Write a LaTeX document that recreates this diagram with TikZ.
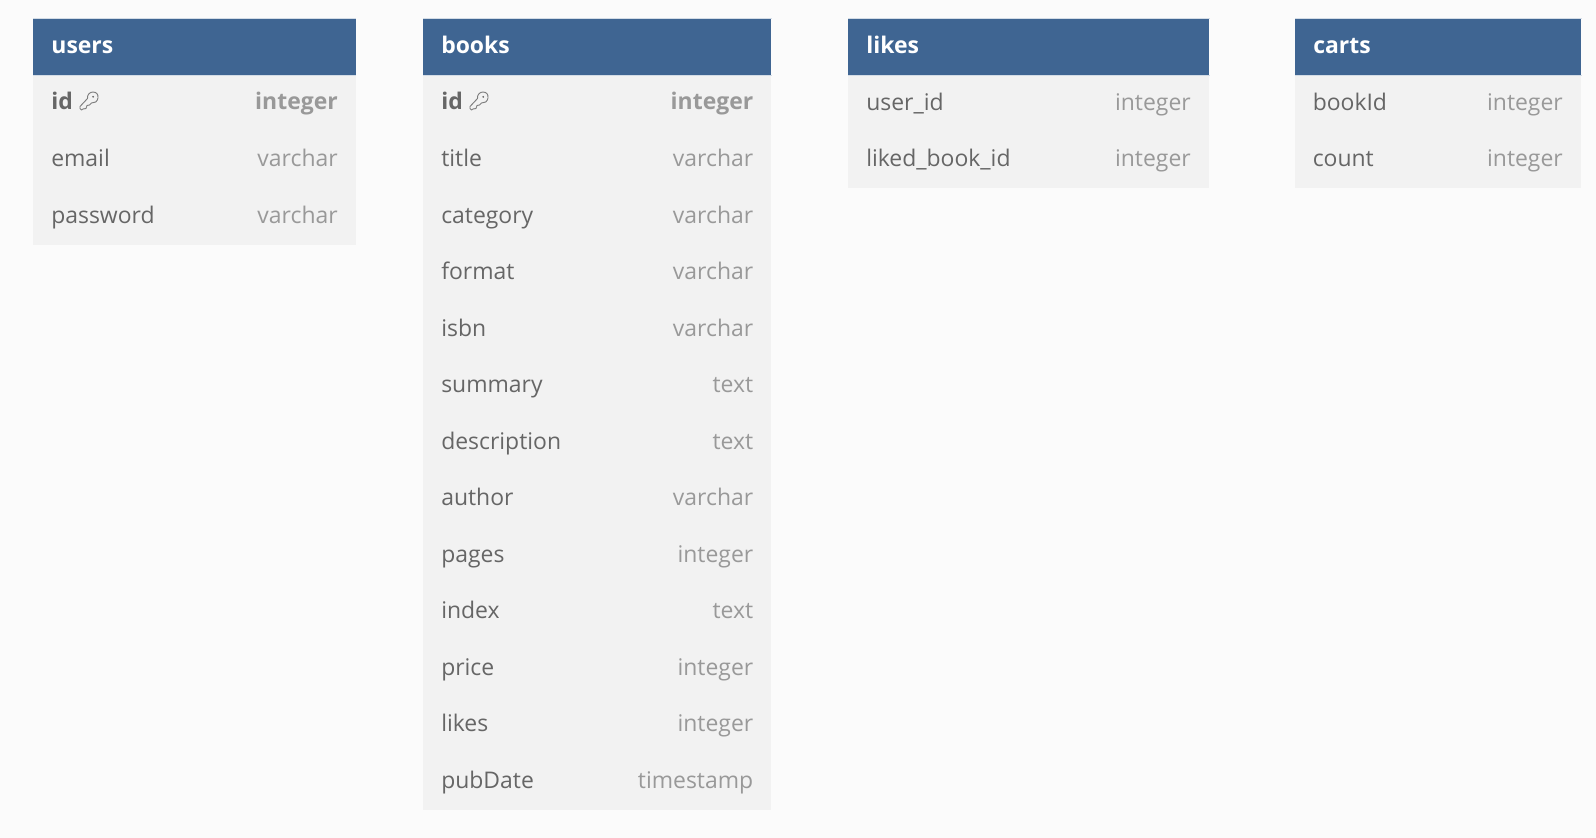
\documentclass[tikz,border=0pt]{standalone}
\usepackage{fontspec}
\setmainfont{Open Sans}
\usetikzlibrary{positioning}
\definecolor{pagebg}{HTML}{FBFBFB}
\definecolor{headblue}{HTML}{3F6592}
\definecolor{headedge}{HTML}{D3DCE6}
\definecolor{rowbg}{HTML}{F2F2F2}
\definecolor{nametext}{HTML}{666666}
\definecolor{typetext}{HTML}{999999}
\tikzset{
  tablehead/.style={fill=headblue,text=white,font=\fontsize{17.2}{20}\selectfont\bfseries,anchor=north west,minimum height=42.4pt,text height=10pt,text depth=0pt,inner xsep=13.5pt,inner ysep=0pt,align=left,text width={#1*0.75pt-27pt}},
  tablebody/.style={fill=rowbg,anchor=north west,inner sep=0pt,minimum width={#1*0.75pt}},
  colname/.style={text=nametext,font=\fontsize{17.2}{20}\selectfont,anchor=base west,inner sep=0pt},
  coltype/.style={text=typetext,font=\fontsize{17.2}{20}\selectfont,anchor=base east,inner sep=0pt},
  keyicon/.style={draw=nametext!85,line width=0.7pt,line join=round}
}
\begin{document}
\begin{tikzpicture}[x=0.75pt,y=-0.75pt]
\useasboundingbox[fill=pagebg] (0,0) rectangle (1596,838);
% table backgrounds
\node[tablebody=322.6,minimum height=127.1pt] (usersbody) at (33.2,75) {};
\node[tablebody=348,minimum height=551.2pt] (booksbody) at (423,75) {};
\node[tablebody=361,minimum height=84.6pt] (likesbody) at (848,75) {};
\node[tablebody=286,minimum height=84.6pt] (cartsbody) at (1295,75) {};
% table titles
\node[tablehead=322.6] (users) at (33.2,18.5) {users};
\node[tablehead=348] (books) at (423,18.5) {books};
\node[tablehead=361] (likes) at (848,18.5) {likes};
\node[tablehead=286] (carts) at (1295,18.5) {carts};
\foreach \tbl in {users,books,likes,carts} {
  \draw[headedge,line width=0.75pt] (\tbl.north west) -- (\tbl.north east);
  \draw[headedge,line width=0.75pt] (\tbl.south west) -- (\tbl.south east);
}
% id rows
\node[colname,font=\fontsize{17.2}{20}\selectfont\bfseries] (usersid) at (51,110) {id};
\node[coltype,font=\fontsize{17.2}{20}\selectfont\bfseries] (usersidtype) at (338,110) {integer};
\node[colname,font=\fontsize{17.2}{20}\selectfont\bfseries] (booksid) at (441,110) {id};
\node[coltype,font=\fontsize{17.2}{20}\selectfont\bfseries] (booksidtype) at (753.5,110) {integer};
% key icons
\foreach \kx in {0,390} {
  \begin{scope}[shift={(\kx,0)}]
  \draw[keyicon] (87.5,98.5) .. controls (87,94.5) and (90,92) .. (93,92) .. controls (96.5,92) and (98.5,94.5) .. (98,98) .. controls (97.5,101.5) and (94.5,103.5) .. (91.5,103) -- (89.5,105) -- (87,105.5) -- (86,108.5) -- (83,109) -- (81.5,110) .. controls (80.5,110) and (80,109.5) .. (80,108.5) -- (80,106.5) -- cycle;
  \fill[nametext] (93.2,96.8) circle (1);
  \end{scope}
}
% users
\foreach \fname/\ftype [count=\i from 1] in {email/varchar,password/varchar} {
  \node[colname] (users-\i) at (51,110.3+56.5*\i) {\fname};
  \node[coltype] (userst-\i) at (338,110.3+56.5*\i) {\ftype};
}
% books
\foreach \fname/\ftype [count=\i from 1] in {title/varchar,category/varchar,format/varchar,isbn/varchar,summary/text,description/text,author/varchar,pages/integer,index/text,price/integer,likes/integer,pubDate/timestamp} {
  \node[colname] (books-\i) at (441,110.3+56.5*\i) {\fname};
  \node[coltype] (bookst-\i) at (753.5,110.3+56.5*\i) {\ftype};
}
% likes
\foreach \fname/\ftype [count=\i from 0] in {user\_id/integer,liked\_book\_id/integer} {
  \node[colname] (likes-\i) at (866,110.3+56.5*\i) {\fname};
  \node[coltype] (likest-\i) at (1191,110.3+56.5*\i) {\ftype};
}
% carts
\foreach \fname/\ftype [count=\i from 0] in {bookId/integer,count/integer} {
  \node[colname] (carts-\i) at (1312.5,110.3+56.5*\i) {\fname};
  \node[coltype] (cartst-\i) at (1563,110.3+56.5*\i) {\ftype};
}
\end{tikzpicture}
\end{document}
